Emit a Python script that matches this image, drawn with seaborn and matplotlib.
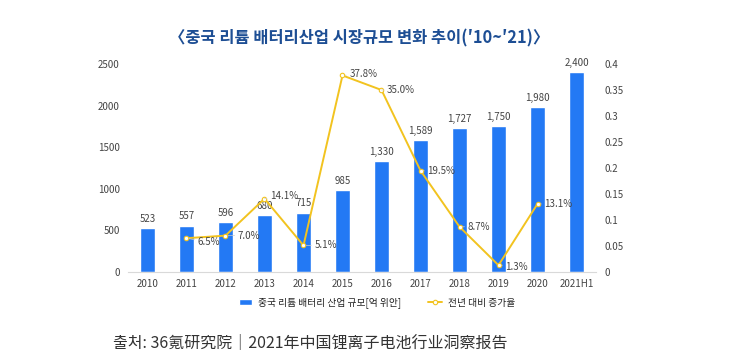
import matplotlib
matplotlib.use("Agg")
import matplotlib.pyplot as plt
import seaborn as sns
import pandas as pd

years = ["2010", "2011", "2012", "2013", "2014", "2015", "2016", "2017", "2018", "2019", "2020", "2021H1"]
market_size = [523, 557, 596, 680, 715, 985, 1330, 1589, 1727, 1750, 1980, 2400]
growth_years = ["2011", "2012", "2013", "2014", "2015", "2016", "2017", "2018", "2019", "2020"]
growth_rate = [0.065, 0.070, 0.141, 0.051, 0.378, 0.350, 0.195, 0.087, 0.013, 0.131]
left_ticks = [0, 500, 1000, 1500, 2000, 2500]
right_ticks = [0, 0.05, 0.1, 0.15, 0.2, 0.25, 0.3, 0.35, 0.4]
right_tick_labels = ["0", "0.05", "0.1", "0.15", "0.2", "0.25", "0.3", "0.35", "0.4"]

title = "〈중국 리튬 배터리산업 시장규모 변화 추이(′10~′21)〉"
bar_label = "중국 리튬 배터리 산업 규모[억 위안]"
line_label = "전년 대비 증가율"
source = "출처: 36氪研究院｜2021年中国锂离子电池行业洞察报告"

sns.set_theme(style="white")
plt.rcParams["font.family"] = ["Noto Sans CJK KR", "DejaVu Sans"]

BLUE = "#2379F4"
GOLD = "#F2C31F"
TXT = "#444444"

df_bar = pd.DataFrame({"year": years, "size": market_size})
df_line = pd.DataFrame({"pos": [years.index(y) for y in growth_years], "rate": growth_rate})

fig = plt.figure(figsize=(7.39, 3.62), dpi=100)
ax = fig.add_axes([0.1732, 0.2486, 0.6333, 0.5746])

sns.barplot(data=df_bar, x="year", y="size", order=years, color=BLUE, width=0.4,
            saturation=1, ax=ax, label=bar_label, legend=False)
ax.set_ylim(0, 2500)
ax.set_xlim(-0.5, len(years) - 0.5)
ax.set_yticks(left_ticks)
ax.set_xlabel("")
ax.set_ylabel("")
for c in ax.containers:
    ax.bar_label(c, labels=[f"{v:,.0f}" for v in market_size], padding=3, fontsize=7, color=TXT)

ax2 = ax.twinx()
sns.lineplot(data=df_line, x="pos", y="rate", color=GOLD, lw=1.4, marker="o", markersize=3.2,
             markerfacecolor="white", markeredgecolor=GOLD, markeredgewidth=0.8, ax=ax2,
             label=line_label, legend=False)
ax2.set_ylim(0, 0.4)
ax2.set_yticks(right_ticks)
ax2.set_yticklabels(right_tick_labels)
ax2.set_xlim(-0.5, len(years) - 0.5)
ax2.set_xlabel("")
ax2.set_ylabel("")

offsets = [(8, -3), (9, 0), (4, 2), (8, 0), (5, 1), (4, 0), (5, 0), (6, 0), (5, -1), (5, 0)]
for (p, r), off in zip(zip(df_line["pos"], df_line["rate"]), offsets):
    ax2.annotate(f"{r*100:.1f}%", xy=(p, r), xytext=off, textcoords="offset points",
                 ha="left", va="center", fontsize=7, color=TXT,
                 arrowprops=dict(arrowstyle="-", color="#cccccc", lw=0.5, shrinkA=0, shrinkB=2))

for a in (ax, ax2):
    for s in ("top", "left", "right"):
        a.spines[s].set_visible(False)
    a.spines["bottom"].set_color("#d9d9d9")
    a.spines["bottom"].set_linewidth(0.8)
    a.tick_params(axis="both", length=0, labelsize=7, labelcolor=TXT, pad=6)
ax2.spines["bottom"].set_visible(False)
ax.tick_params(axis="x", pad=5)

fig.text(0.486, 0.895, title, ha="center", va="center", fontsize=11.8, fontweight="bold",
         color="#1D4E94")

h1, l1 = ax.get_legend_handles_labels()
h2, l2 = ax2.get_legend_handles_labels()
fig.legend(h1 + h2, l1 + l2, loc="center", bbox_to_anchor=(0.51, 0.163), ncol=2, frameon=False,
           fontsize=7, handlelength=1.4, handleheight=0.5, columnspacing=2.8, handletextpad=0.6,
           labelcolor="#222222")

fig.text(0.153, 0.055, source, ha="left", va="center", fontsize=11.5, color="#333333")

fig.savefig("out.png", dpi=100)
